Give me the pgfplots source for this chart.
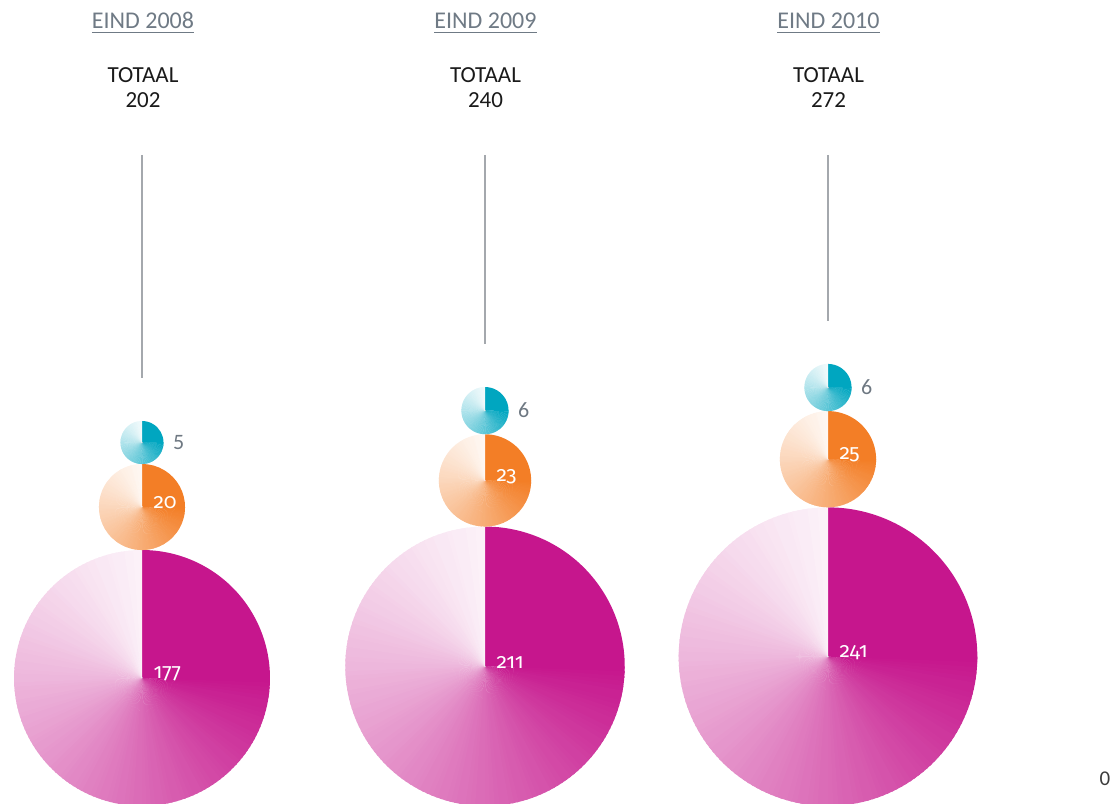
\documentclass[border=0pt]{standalone}
\usepackage{fontspec}
\setmainfont{Carlito}
\newfontfamily\labfont[Numbers=OldStyle]{Fira Sans}
\usepackage{pgfplots}
\usepackage{pgfplotstable}
\pgfplotsset{compat=1.18}
\definecolor{mag}{HTML}{C6168D}
\definecolor{org}{HTML}{F37E26}
\definecolor{tl}{HTML}{00A6C0}
\definecolor{hdr}{HTML}{6F7A85}
\definecolor{vline}{HTML}{A4A8AD}
\definecolor{lblgrey}{HTML}{6E7882}
\definecolor{txt}{HTML}{1A1A1A}

\newsavebox\ubox
\newcommand\ul[1]{\sbox\ubox{#1}\rlap{\rule[-3.6pt]{\wd\ubox}{1pt}}\usebox\ubox}

\newdimen\bubR
% conic-gradient bubble mark: solid quadrant 12-3 o'clock, then fading clockwise to near white
\newcommand\defconicmark[2]{%
  \pgfdeclareplotmark{#1}{%
    \pgfmathsetlength\bubR{\rr pt}%
    \pgfpathmoveto{\pgfpointorigin}%
    \pgfpathlineto{\pgfpointpolar{-1}{\bubR}}%
    \pgfpatharc{-1}{90}{\bubR}%
    \pgfpathclose
    \pgfsetfillcolor{#2}%
    \pgfusepath{fill}%
    \foreach \i in {0,...,134}{%
      \pgfmathsetmacro\aa{-2*\i}%
      \pgfmathsetmacro\ab{max(-2*\i-2.8,-270)}%
      \pgfmathsetmacro\ff{int(round(100*(0.06+0.94*(1-(\i+0.5)/135)^1.2)))}%
      \pgfpathmoveto{\pgfpointorigin}%
      \pgfpathlineto{\pgfpointpolar{\aa}{\bubR}}%
      \pgfpatharc{\aa}{\ab}{\bubR}%
      \pgfpathclose
      \pgfsetfillcolor{#2!\ff!white}%
      \pgfusepath{fill}%
    }%
  }%
}
\defconicmark{conicmag}{mag}
\defconicmark{conicorg}{org}
\defconicmark{conictl}{tl}

\pgfplotstableread{
x y v
142 125.0 177
485 136.7 211
828 146.3 241
}\magtab
\pgfplotstableread{
x y v
142 296.0 20
485 322.6 23
828 343.8 25
}\orgtab
\pgfplotstableread{
x y v
142 360.5 5
485 392.4 6
828 415.5 6
}\tltab

\pgfplotsset{
  bubble/.style={
    scatter, only marks,
    point meta=\thisrow{v},
    scatter/use mapped color={draw=none},
    visualization depends on={9.62*sqrt(\thisrow{v}) \as \rr},
  },
}

\begin{document}
\begin{tikzpicture}
\begin{axis}[
  x=1pt, y=1pt,
  xmin=0, xmax=1116, ymin=0, ymax=803,
  hide axis, clip=false,
  /pgf/number format/assume math mode=true,
]
% vertical lines
\addplot[vline, line width=1.3pt] coordinates {(142,648) (142,425)};
\addplot[vline, line width=1.3pt] coordinates {(485,648) (485,459)};
\addplot[vline, line width=1.3pt] coordinates {(828,648) (828,482)};

% bubbles
\addplot[bubble, mark=conicmag,
  nodes near coords,
  nodes near coords style={font=\labfont\fontsize{21}{21}\selectfont, text=white, anchor=west, xshift=8pt, yshift=4pt}]
  table[x=x, y=y] {\magtab};
\addplot[bubble, mark=conicorg,
  nodes near coords,
  nodes near coords style={font=\labfont\fontsize{21}{21}\selectfont, text=white, anchor=west, xshift=8pt, yshift=4pt}]
  table[x=x, y=y] {\orgtab};
\addplot[bubble, mark=conictl,
  nodes near coords,
  nodes near coords style={font=\fontsize{22}{22}\selectfont, text=lblgrey, anchor=west, xshift={\rr+6}, yshift=0pt}]
  table[x=x, y=y] {\tltab};

% headers
\foreach \xx/\yr/\tot in {143/2008/202, 485.5/2009/240, 828.5/2010/272}{
  \edef\temp{\noexpand\node[anchor=base, text=hdr, font=\noexpand\fontsize{24}{24}\noexpand\selectfont, inner sep=0pt] at (axis cs:\xx,774) {\noexpand\ul{EIND \yr}};
    \noexpand\node[anchor=base, text=txt, font=\noexpand\fontsize{23}{24}\noexpand\selectfont, inner sep=0pt] at (axis cs:\xx,720) {TOTAAL};
    \noexpand\node[anchor=base, text=txt, font=\noexpand\fontsize{23}{24}\noexpand\selectfont, inner sep=0pt] at (axis cs:\xx,695) {\tot};}
  \temp
}
\node[anchor=base, text=txt!85, font=\fontsize{21}{21}\selectfont, inner sep=0pt] at (axis cs:1105,18) {0};
\end{axis}
\pgfresetboundingbox
\path[use as bounding box] (current axis.south west) rectangle (current axis.north east);
\end{tikzpicture}
\end{document}
